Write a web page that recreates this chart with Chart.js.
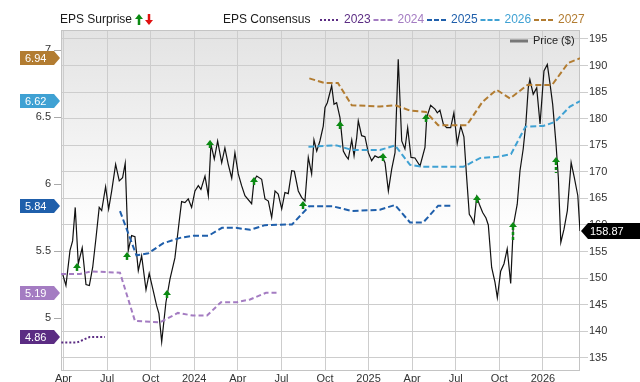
<!DOCTYPE html>
<html>
<head>
<meta charset="utf-8">
<script src="https://cdn.jsdelivr.net/npm/chart.js@4.4.1/dist/chart.umd.min.js"></script>
<style>
  html, body { margin: 0; padding: 0; background: #fff; }
  #wrap { position: relative; width: 640px; height: 382px; }
</style>
</head>
<body>
<div id="wrap"><canvas id="epsChart" width="640" height="382"></canvas></div>
<script>
// x values are months counted from Jan 2023 (3 = Apr 2023, 36 = Jan 2026)
const xTickMonths = [3, 6, 9, 12, 15, 18, 21, 24, 27, 30, 33, 36];
const xTickLabels = ['Apr', 'Jul', 'Oct', '2024', 'Apr', 'Jul', 'Oct', '2025', 'Apr', 'Jul', 'Oct', '2026'];
const epsTicks = [5, 5.5, 6, 6.5, 7];
const priceTicks = [135, 140, 145, 150, 155, 160, 165, 170, 175, 180, 185, 190, 195];

// share price (weekly-ish)
const priceMonths = [2.94, 3.17, 3.45, 3.63, 3.81, 4.02, 4.29, 4.55, 4.78, 5.01, 5.24, 5.46, 5.63, 5.90, 6.11, 6.32, 6.59, 6.84, 7.07, 7.25,
  7.46, 7.69, 7.92, 8.15, 8.38, 8.68, 8.90, 9.18, 9.41, 9.57, 9.76, 10.05, 10.33, 10.67, 10.97, 11.13, 11.36, 11.59, 11.82, 12.05,
  12.28, 12.46, 12.74, 12.97, 13.15, 13.38, 13.61, 13.89, 14.11, 14.34, 14.58, 14.80, 15.03, 15.26, 15.49, 15.95, 16.11, 16.30, 16.64, 16.87,
  17.10, 17.33, 17.56, 17.78, 18.02, 18.24, 18.47, 18.71, 18.89, 19.16, 19.39, 19.62, 19.85, 20.08, 20.24, 20.43, 20.65, 20.88, 21.00, 21.16,
  21.46, 21.62, 21.80, 22.03, 22.26, 22.44, 22.60, 22.84, 23.00, 23.18, 23.29, 23.52, 23.75, 23.98, 24.21, 24.44, 24.67, 24.90, 25.13, 25.36,
  25.59, 25.82, 26.04, 26.28, 26.50, 26.69, 26.92, 27.19, 27.54, 27.88, 28.00, 28.27, 28.57, 28.73, 28.91, 29.14, 29.37, 29.65, 29.87, 30.10,
  30.34, 30.56, 30.75, 30.93, 31.09, 31.25, 31.44, 31.62, 31.85, 32.08, 32.24, 32.47, 32.70, 32.86, 33.09, 33.32, 33.54, 33.78, 33.96, 34.23,
  34.42, 34.64, 34.83, 34.99, 35.10, 35.33, 35.57, 35.80, 36.07, 36.30, 36.49, 36.67, 36.90, 37.06, 37.23, 37.45, 37.68, 37.94, 38.16, 38.40, 38.55];
const priceValues = [150.8, 148.6, 155.2, 157.0, 163.3, 152.7, 155.7, 148.8, 148.6, 152.0, 157.6, 163.3, 162.7, 167.2, 163.0, 166.4, 171.4, 168.3, 168.9, 171.6,
  155.2, 158.0, 157.8, 151.4, 154.2, 147.8, 150.9, 147.6, 144.8, 143.3, 138.0, 145.4, 149.8, 153.8, 160.8, 164.4, 164.2, 164.9, 163.3, 166.4,
  167.4, 166.7, 169.2, 165.5, 175.2, 172.4, 175.8, 171.7, 174.5, 171.4, 168.8, 173.6, 169.6, 167.4, 165.5, 164.0, 168.3, 169.2, 168.6, 164.9,
  164.5, 161.4, 166.4, 165.8, 163.0, 166.1, 165.9, 170.2, 170.1, 166.4, 165.2, 164.5, 172.7, 169.6, 176.0, 173.9, 175.8, 178.6, 182.1, 183.0,
  186.2, 182.7, 183.0, 180.2, 173.9, 173.0, 172.4, 176.0, 173.0, 176.4, 179.6, 176.8, 176.6, 173.6, 172.1, 173.0, 172.7, 173.0, 171.7, 166.4,
  170.5, 173.6, 191.2, 175.8, 174.3, 178.3, 172.7, 172.6, 171.1, 174.6, 180.2, 182.5, 181.8, 181.1, 181.6, 179.0, 178.3, 178.3, 181.1, 175.3,
  178.6, 176.6, 168.9, 162.0, 161.3, 160.3, 165.3, 163.9, 162.35, 161.3, 160.0, 152.0, 149.2, 146.3, 151.3, 152.7, 155.5, 149.0, 159.85, 163.9,
  170.2, 174.3, 179.3, 185.8, 187.4, 184.6, 185.8, 179.0, 189.0, 190.2, 186.5, 182.7, 175.2, 168.9, 156.7, 159.2, 162.7, 171.75, 168.9, 165.5, 158.87];

// EPS consensus by fiscal year
const eps2023Months = [2.85, 3.95, 4.8, 5.85];
const eps2023Values = [4.82, 4.82, 4.86, 4.86];
const eps2024Months = [2.83, 4.14, 4.9, 6.89, 7.92, 9.64, 10.88, 11.91, 12.88, 13.84, 14.94, 15.84, 16.94, 17.83];
const eps2024Values = [5.33, 5.33, 5.35, 5.34, 4.98, 4.97, 5.04, 5.02, 5.02, 5.12, 5.12, 5.14, 5.19, 5.19];
const eps2025Months = [6.89, 8.02, 8.84, 9.87, 11.02, 11.93, 12.97, 13.91, 14.87, 15.84, 16.87, 18.73, 19.9, 21.55, 22.84, 24.78, 25.82, 26.85, 27.76, 28.79, 29.83];
const eps2025Values = [5.80, 5.47, 5.485, 5.56, 5.60, 5.615, 5.615, 5.675, 5.675, 5.66, 5.695, 5.70, 5.835, 5.835, 5.80, 5.81, 5.845, 5.715, 5.715, 5.84, 5.84];
const eps2026Months = [19.86, 21.80, 22.86, 24.78, 25.82, 26.85, 27.76, 30.52, 31.66, 32.90, 33.80, 34.80, 36.02, 36.83, 37.86, 38.55];
const eps2026Values = [6.28, 6.29, 6.255, 6.255, 6.29, 6.145, 6.13, 6.13, 6.195, 6.205, 6.225, 6.43, 6.435, 6.465, 6.58, 6.62];
const eps2027Months = [19.92, 21.0, 21.89, 22.84, 24.78, 25.82, 26.85, 27.95, 28.79, 30.75, 31.84, 32.81, 33.73, 34.93, 36.62, 37.74, 38.55];
const eps2027Values = [6.79, 6.755, 6.755, 6.59, 6.58, 6.59, 6.55, 6.54, 6.44, 6.44, 6.615, 6.705, 6.64, 6.74, 6.74, 6.905, 6.94];

// EPS surprise arrows: month, arrow tip, arrow tail (EPS scale)
const surpriseMonths = [3.95, 7.39, 10.14, 13.08, 16.08, 19.5, 22.03, 25.0, 27.95, 31.44, 33.92, 36.9];
const surpriseTop = [5.413, 5.495, 5.211, 6.33, 6.054, 5.875, 6.472, 6.233, 6.524, 5.92, 5.718, 6.204];
const surpriseBase = [5.345, 5.435, 5.151, 6.27, 5.995, 5.807, 6.413, 6.174, 6.465, 5.86, 5.584, 6.084];

// left-side value tags
const yearNames = ['2023', '2024', '2025', '2026', '2027'];
const yearColors = ['#5b2c83', '#a47cc2', '#1f5fab', '#3fa1d3', '#b27c31'];
const tagValues = [4.86, 5.19, 5.84, 6.62, 6.94];
const lastPrice = 158.87;

const toPoints = (xs, ys) => xs.map((x, i) => ({ x: x, y: ys[i] }));

function epsSet(label, xs, ys, color, dash, order) {
    return {
        label: label,
        data: toPoints(xs, ys),
        yAxisID: 'yEps',
        borderColor: color,
        borderWidth: 2,
        borderDash: dash,
        pointRadius: 0,
        tension: 0,
        fill: false,
        order: order
    };
}

// background gradient + plot frame
const plotFrame = {
    id: 'plotFrame',
    beforeDraw(chart) {
        const { ctx, chartArea: a } = chart;
        ctx.save();
        ctx.fillStyle = '#fff';
        ctx.fillRect(0, 0, chart.width, chart.height);
        const g = ctx.createLinearGradient(0, a.top, 0, a.bottom);
        g.addColorStop(0, '#e3e3e3');
        g.addColorStop(0.6, '#ffffff');
        g.addColorStop(1, '#ffffff');
        ctx.fillStyle = g;
        ctx.fillRect(a.left, a.top, a.right - a.left, a.bottom - a.top);
        ctx.restore();
    },
    beforeDatasetsDraw(chart) {
        const { ctx, chartArea: a } = chart;
        ctx.save();
        ctx.strokeStyle = '#c4c4c4';
        ctx.lineWidth = 1;
        ctx.strokeRect(a.left + 0.5, a.top + 0.5, a.right - a.left - 1, a.bottom - a.top);
        ctx.restore();
    }
};

// green / red arrows
function drawArrow(ctx, x, yTip, yTail, color, up, dashed) {
    const dir = up ? 1 : -1;
    ctx.fillStyle = color;
    ctx.beginPath();
    ctx.moveTo(x, yTip);
    ctx.lineTo(x - 4, yTip + 5 * dir);
    ctx.lineTo(x + 4, yTip + 5 * dir);
    ctx.closePath();
    ctx.fill();
    ctx.strokeStyle = color;
    ctx.lineWidth = 2.5;
    ctx.setLineDash(dashed ? [3, 2] : []);
    ctx.beginPath();
    ctx.moveTo(x, yTip + 5 * dir);
    ctx.lineTo(x, yTail);
    ctx.stroke();
    ctx.setLineDash([]);
}

const surprises = {
    id: 'surprises',
    afterDatasetsDraw(chart) {
        const { ctx, scales } = chart;
        ctx.save();
        surpriseMonths.forEach((m, i) => {
            const x = Math.round(scales.x.getPixelForValue(m));
            const yTop = scales.yEps.getPixelForValue(surpriseTop[i]);
            const yBase = scales.yEps.getPixelForValue(surpriseBase[i]);
            drawArrow(ctx, x, yTop, Math.max(yBase, yTop + 9), '#0b8a12', true, true);
        });
        ctx.restore();
    }
};

// legends, value tags, price tag
const labelsPlugin = {
    id: 'labelsPlugin',
    afterDraw(chart) {
        const { ctx, scales, chartArea: a } = chart;
        ctx.save();
        ctx.textBaseline = 'middle';

        // top legend
        ctx.font = '12px "Liberation Sans", Arial, sans-serif';
        ctx.fillStyle = '#1a1a1a';
        ctx.fillText('EPS Surprise', 60, 20);
        drawArrow(ctx, 139, 14, 25, '#0b8a12', true, false);
        drawArrow(ctx, 149, 25, 14, '#e01010', false, false);
        ctx.fillStyle = '#1a1a1a';
        ctx.fillText('EPS Consensus', 223, 20);
        yearNames.forEach((name, i) => {
            const x0 = 320 + i * 53.5;
            ctx.strokeStyle = yearColors[i];
            ctx.lineWidth = 2;
            ctx.setLineDash(i === 0 ? [2, 2] : [5, 2]);
            ctx.beginPath();
            ctx.moveTo(x0, 20);
            ctx.lineTo(x0 + 20, 20);
            ctx.stroke();
            ctx.setLineDash([]);
            ctx.fillStyle = yearColors[i];
            ctx.fillText(name, x0 + 24, 20);
        });

        // price legend inside the plot
        ctx.strokeStyle = '#777';
        ctx.lineWidth = 3;
        ctx.beginPath();
        ctx.moveTo(510, 41);
        ctx.lineTo(528, 41);
        ctx.stroke();
        ctx.font = '11px "Liberation Sans", Arial, sans-serif';
        ctx.fillStyle = '#222';
        ctx.fillText('Price ($)', 533, 41);

        // EPS value tags on the left
        tagValues.forEach((v, i) => {
            const y = Math.round(scales.yEps.getPixelForValue(v));
            ctx.fillStyle = yearColors[i];
            ctx.beginPath();
            ctx.moveTo(20, y - 7);
            ctx.lineTo(54, y - 7);
            ctx.lineTo(60, y);
            ctx.lineTo(54, y + 7);
            ctx.lineTo(20, y + 7);
            ctx.closePath();
            ctx.fill();
            ctx.fillStyle = '#fff';
            ctx.fillText(v.toFixed(2), 25, y + 0.5);
        });

        // last price tag on the right
        const py = Math.round(scales.yPrice.getPixelForValue(lastPrice));
        ctx.fillStyle = '#000';
        ctx.beginPath();
        ctx.moveTo(a.right + 1, py);
        ctx.lineTo(a.right + 8, py - 8);
        ctx.lineTo(640, py - 8);
        ctx.lineTo(640, py + 8);
        ctx.lineTo(a.right + 8, py + 8);
        ctx.closePath();
        ctx.fill();
        ctx.fillStyle = '#fff';
        ctx.fillText(lastPrice.toFixed(2), a.right + 10, py + 0.5);
        ctx.restore();
    }
};

document.addEventListener('DOMContentLoaded', function () {
    const ctx = document.getElementById('epsChart').getContext('2d');
    Chart.defaults.font.family = '"Liberation Sans", Arial, sans-serif';
    Chart.defaults.font.size = 11;
    Chart.defaults.color = '#333';

    new Chart(ctx, {
        type: 'line',
        data: {
            datasets: [
                {
                    label: 'Price ($)',
                    data: toPoints(priceMonths, priceValues),
                    yAxisID: 'yPrice',
                    borderColor: '#111',
                    borderWidth: 1.2,
                    pointRadius: 0,
                    tension: 0,
                    fill: false,
                    order: 10
                },
                epsSet('2023', eps2023Months, eps2023Values, yearColors[0], [2, 2], 5),
                epsSet('2024', eps2024Months, eps2024Values, yearColors[1], [5, 3], 4),
                epsSet('2025', eps2025Months, eps2025Values, yearColors[2], [6, 3], 3),
                epsSet('2026', eps2026Months, eps2026Values, yearColors[3], [6, 3], 2),
                epsSet('2027', eps2027Months, eps2027Values, yearColors[4], [6, 3], 1)
            ]
        },
        options: {
            responsive: false,
            animation: false,
            devicePixelRatio: 1,
            layout: { padding: { top: 30, left: 0, right: 0, bottom: 0 } },
            plugins: {
                legend: { display: false },
                tooltip: { enabled: false }
            },
            scales: {
                x: {
                    type: 'linear',
                    min: 2.83,
                    max: 38.55,
                    afterBuildTicks: axis => { axis.ticks = xTickMonths.map(v => ({ value: v })); },
                    afterFit: axis => { axis.height = 12; },
                    grid: { color: '#cdcdcd', drawTicks: false },
                    border: { display: false },
                    ticks: {
                        padding: 2,
                        maxRotation: 0,
                        autoSkip: false,
                        callback: (value, index) => xTickLabels[index]
                    }
                },
                yEps: {
                    type: 'linear',
                    position: 'left',
                    min: 4.614,
                    max: 7.151,
                    afterBuildTicks: axis => { axis.ticks = epsTicks.map(v => ({ value: v })); },
                    afterFit: axis => { axis.width = 61; },
                    grid: { drawOnChartArea: false, tickLength: 7, color: '#aaa' },
                    border: { display: false },
                    ticks: { padding: 3, callback: v => String(v) }
                },
                yPrice: {
                    type: 'linear',
                    position: 'right',
                    min: 132.7,
                    max: 196.69,
                    afterBuildTicks: axis => { axis.ticks = priceTicks.map(v => ({ value: v })); },
                    afterFit: axis => { axis.width = 60; },
                    grid: { color: '#cdcdcd', tickLength: 8 },
                    border: { display: false },
                    ticks: { padding: 1, callback: v => String(v) }
                }
            }
        },
        plugins: [plotFrame, surprises, labelsPlugin]
    });
});
</script>
</body>
</html>
